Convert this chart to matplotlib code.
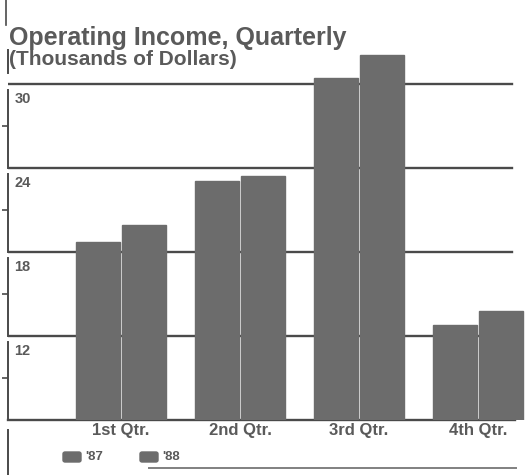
import numpy as np
from matplotlib import pyplot as plt
from matplotlib.patches import FancyBboxPatch
import matplotlib.transforms as mtransforms

quarters = ["1st Qtr.", "2nd Qtr.", "3rd Qtr.", "4th Qtr."]
income_87 = [18.7, 23.1, 30.4, 12.8]
income_88 = [19.9, 23.4, 32.1, 13.8]
grid_values = [12, 18, 24, 30]
series_names = ["'87", "'88"]

plt.rcParams['font.family'] = ['Liberation Sans', 'DejaVu Sans']
plt.rcParams['font.weight'] = 'bold'

ink = '#4a4a4a'
bar_color = '#6c6c6c'
text_color = '#5a5a5a'

W, H = 529, 475
fig = plt.figure(figsize=(W / 100, H / 100), dpi=100)
ax = fig.add_axes([8 / W, 55 / H, 521 / W, 420 / H])
ax.set_ylim(6, 36)
ax.set_xlim(-0.95, 3.43)
for s in ax.spines.values():
    s.set_visible(False)

x = np.arange(len(quarters))
width = 0.37
off = 0.195

# gridlines behind the bars
for v in grid_values:
    ax.axhline(v, xmin=0, xmax=0.967, color=ink, lw=1.7, zorder=1)
ax.axhline(6, xmin=0, xmax=0.973, color=ink, lw=1.7, zorder=1, clip_on=False)

ax.bar(x - off, income_87, width, bottom=0, color=bar_color, edgecolor=bar_color, zorder=2)
ax.bar(x + off, income_88, width, bottom=0, color=bar_color, edgecolor=bar_color, zorder=2)

# broken left edge, one segment per band
trans = mtransforms.blended_transform_factory(ax.transAxes, ax.transData)
bands = [6] + grid_values
for lo, hi in zip(bands[:-1], bands[1:]):
    ax.plot([0, 0], [lo, hi - 0.4], color=ink, lw=1.4, transform=trans, clip_on=False)
ax.plot([0, 0], [30.8, 32.4], color=ink, lw=1.4, transform=trans, clip_on=False)
ax.plot([-0.004, -0.004], [34.2, 36], color=ink, lw=1.2, transform=trans, clip_on=False)
ax.plot([0, 0], [2.0, 5.3], color=ink, lw=1.4, transform=trans, clip_on=False)
ax.plot([0.27, 0.975], [2.57, 2.57], color=ink, lw=1.4, alpha=0.7, transform=trans, clip_on=False)

# small outward ticks at mid-band
ax.set_yticks([9, 15, 21, 27])
ax.set_yticklabels([])
ax.tick_params(axis='y', direction='out', length=4.5, width=1.2, color=ink)

ax.set_xticks(x)
ax.set_xticklabels(quarters, fontsize=12, color=text_color, fontweight='bold')
ax.tick_params(axis='x', length=0, pad=2)

for v in grid_values:
    ax.text(0.012, v - 1.05, str(v), transform=trans, fontsize=10.5,
            color=text_color, fontweight='bold', va='center', ha='left')

fig.text(9 / W, 1 - 45 / H, "Operating Income, Quarterly", fontsize=18,
         color=text_color, fontweight='bold', va='baseline', ha='left')
fig.text(9 / W, 1 - 65 / H, "(Thousands of Dollars)", fontsize=15,
         color=text_color, fontweight='bold', va='baseline', ha='left')

# legend below the chart
for i, name in enumerate(series_names):
    lx = (63 + i * 77) / W
    fig.patches.append(FancyBboxPatch((lx, 1 - 462 / H), 18 / W, 10 / H,
                                      boxstyle="round,pad=0,rounding_size=0.004",
                                      transform=fig.transFigure, color=bar_color))
    fig.text(lx + 22 / W, 1 - 457 / H, name, fontsize=9.5, color=text_color,
             fontweight='bold', va='center', ha='left')

fig.savefig("out.png", dpi=100)
